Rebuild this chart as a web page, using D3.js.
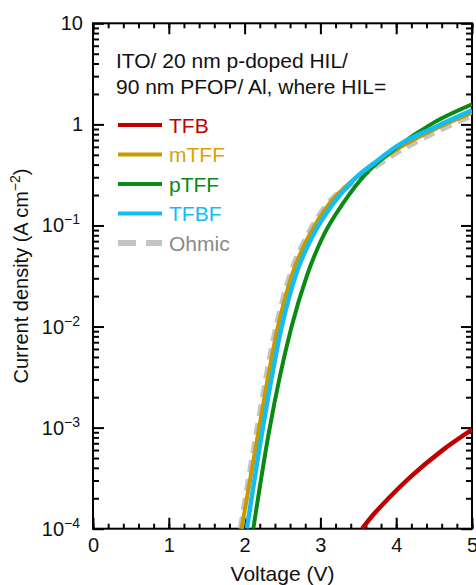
<!DOCTYPE html>
<html>
<head>
<meta charset="utf-8">
<title>Current density vs voltage</title>
<style>
body { margin: 0; background: #fff; }
svg { font-family: "Liberation Sans", Arial, sans-serif; }
</style>
<script src="https://d3js.org/d3.v7.min.js"></script>
</head>
<body>
<script>

// values (V in volts, J in A cm^-2)
var tfbV   = [3.55, 3.7, 3.9, 4.2, 4.6, 5.0];
var tfbJ   = [1e-4, 1.38e-4, 2.0e-4, 3.31e-4, 5.89e-4, 9.55e-4];

var mtffV  = [1.96, 2.18, 2.44, 2.62, 2.85, 3.1, 3.4, 3.7, 4.0, 4.5, 5.0];
var mtffJ  = [1e-4, 8.91e-4, 0.01, 0.0316, 0.0794, 0.158, 0.269, 0.398, 0.562, 0.891, 1.30];

var ptffV  = [2.115, 2.32, 2.62, 2.82, 3.04, 3.3, 3.6, 3.8, 4.0, 4.5, 5.0];
var ptffJ  = [1e-4, 8.91e-4, 0.01, 0.0316, 0.0794, 0.166, 0.324, 0.447, 0.590, 1.047, 1.58];

var tfbfV  = [2.03, 2.23, 2.49, 2.67, 2.9, 3.15, 3.45, 3.75, 4.0, 4.5, 5.0];
var tfbfJ  = [1e-4, 8.91e-4, 0.01, 0.0316, 0.0794, 0.158, 0.288, 0.437, 0.603, 0.933, 1.38];

var ohmicV = [1.95, 2.16, 2.42, 2.6, 2.83, 3.08, 3.4, 3.7, 4.0, 4.5, 5.0];
var ohmicJ = [1e-4, 8.91e-4, 0.01, 0.0316, 0.0794, 0.158, 0.257, 0.372, 0.525, 0.832, 1.23];

var seriesNames = ["TFB", "mTFF", "pTFF", "TFBF", "Ohmic"];
var xTicks = [0, 1, 2, 3, 4, 5];
var yTicks = [1e-4, 1e-3, 1e-2, 1e-1, 1, 10];
var yTickBase = ["10", "10", "10", "10", "1", "10"];
var yTickExp  = ["\u22124", "\u22123", "\u22122", "\u22121", "", ""];

var W = 476, H = 585;
var pL = 93, pR = 472, pT = 23.3, pB = 528.7;

var svg = d3.select("body").append("svg")
    .attr("width", W).attr("height", H);

var x = d3.scaleLinear().domain([0, 5]).range([pL, pR]);
var y = d3.scaleLog().domain([1e-4, 10]).range([pB, pT]);

svg.append("defs").append("clipPath").attr("id", "clip")
  .append("rect")
    .attr("x", pL).attr("y", pT)
    .attr("width", pR - pL).attr("height", pB - pT);

// minor ticks
var xMinor = d3.range(0, 5.001, 0.2);
var yMinor = [];
yTicks.slice(0, -1).forEach(function(d) {
  for (var k = 2; k <= 9; k++) yMinor.push(d * k);
});

function style(g) {
  g.select(".domain").remove();
  g.selectAll("line").attr("stroke", "#000").attr("stroke-width", 2);
}

svg.append("g").attr("transform", "translate(0," + pB + ")")
  .call(d3.axisBottom(x).tickValues(xMinor).tickSize(-5).tickFormat("")).call(style);
svg.append("g").attr("transform", "translate(0," + pB + ")")
  .call(d3.axisBottom(x).tickValues(xTicks).tickSize(-11).tickPadding(9).tickFormat(d3.format("d")))
  .call(style)
  .selectAll("text").attr("font-size", 20).attr("fill", "#111")
  .attr("font-family", "'Liberation Sans', Arial, sans-serif");

svg.append("g").attr("transform", "translate(0," + pT + ")")
  .call(d3.axisTop(x).tickValues(xMinor).tickSize(-5).tickFormat("")).call(style);
svg.append("g").attr("transform", "translate(0," + pT + ")")
  .call(d3.axisTop(x).tickValues(xTicks).tickSize(-11).tickFormat("")).call(style);

svg.append("g").attr("transform", "translate(" + pL + ",0)")
  .call(d3.axisLeft(y).tickValues(yMinor).tickSize(-6).tickFormat("")).call(style);
svg.append("g").attr("transform", "translate(" + pL + ",0)")
  .call(d3.axisLeft(y).tickValues(yTicks).tickSize(-11).tickFormat("")).call(style);

svg.append("g").attr("transform", "translate(" + pR + ",0)")
  .call(d3.axisRight(y).tickValues(yMinor).tickSize(-6).tickFormat("")).call(style);
svg.append("g").attr("transform", "translate(" + pR + ",0)")
  .call(d3.axisRight(y).tickValues(yTicks).tickSize(-11).tickFormat("")).call(style);

// y tick labels with superscripts
yTicks.forEach(function(d, i) {
  var t = svg.append("text")
      .attr("x", yTickExp[i] ? 80 : 83)
      .attr("y", y(d) + 7)
      .attr("text-anchor", "end")
      .attr("font-size", 20)
      .attr("fill", "#111");
  t.append("tspan").text(yTickBase[i]);
  if (yTickExp[i]) {
    t.append("tspan").attr("dy", -8).attr("font-size", 14).text(yTickExp[i]);
  }
});

// frame
svg.append("rect")
    .attr("x", pL).attr("y", pT)
    .attr("width", pR - pL).attr("height", pB - pT)
    .attr("fill", "none").attr("stroke", "#000").attr("stroke-width", 2);

// curves
var line = d3.line()
    .x(function(d) { return x(d[0]); })
    .y(function(d) { return y(d[1]); })
    .curve(d3.curveMonotoneX);

var curves = [
  {name: "Ohmic", v: ohmicV, j: ohmicJ, color: "#c4c4c4", width: 6, dash: "12,7"},
  {name: "TFB",   v: tfbV,   j: tfbJ,   color: "#c00000", width: 4.5},
  {name: "mTFF",  v: mtffV,  j: mtffJ,  color: "#c89a00", width: 4},
  {name: "pTFF",  v: ptffV,  j: ptffJ,  color: "#0a8a14", width: 4},
  {name: "TFBF",  v: tfbfV,  j: tfbfJ,  color: "#12bdf2", width: 4.5}
];

var plot = svg.append("g").attr("clip-path", "url(#clip)");
curves.forEach(function(c) {
  plot.append("path")
      .datum(c.v.map(function(v, i) { return [v, c.j[i]]; }))
      .attr("d", line)
      .attr("fill", "none")
      .attr("stroke", c.color)
      .attr("stroke-width", c.width)
      .attr("stroke-dasharray", c.dash || null);
});

// annotation
svg.append("text").attr("x", 116).attr("y", 68).attr("font-size", 21).attr("fill", "#111")
  .text("ITO/ 20 nm p-doped HIL/");
svg.append("text").attr("x", 116).attr("y", 94).attr("font-size", 21).attr("fill", "#111")
  .text("90 nm PFOP/ Al, where HIL=");

// legend
var legendColors = {TFB: "#c00000", mTFF: "#c89a00", pTFF: "#0a8a14", TFBF: "#12bdf2", Ohmic: "#c4c4c4"};
var textColors = {TFB: "#c00000", mTFF: "#d9a300", pTFF: "#0a8a14", TFBF: "#12bdf2", Ohmic: "#8a8a8a"};
seriesNames.forEach(function(n, i) {
  var ly = 125 + i * 29.5;
  svg.append("line")
      .attr("x1", 118).attr("x2", 162).attr("y1", ly).attr("y2", ly)
      .attr("stroke", legendColors[n])
      .attr("stroke-width", n === "Ohmic" ? 6 : 4)
      .attr("stroke-dasharray", n === "Ohmic" ? "18,10" : null);
  svg.append("text")
      .attr("x", 169).attr("y", ly + 7.5)
      .attr("font-size", 21)
      .attr("fill", textColors[n])
      .text(n);
});

// axis titles
svg.append("text")
    .attr("x", (pL + pR) / 2).attr("y", 581)
    .attr("text-anchor", "middle").attr("font-size", 21).attr("fill", "#111")
    .text("Voltage (V)");

var yt = svg.append("text")
    .attr("transform", "translate(28," + ((pT + pB) / 2) + ") rotate(-90)")
    .attr("text-anchor", "middle").attr("font-size", 20).attr("fill", "#111");
yt.append("tspan").text("Current density (A cm");
yt.append("tspan").attr("dy", -8).attr("font-size", 14).text("\u22122");
yt.append("tspan").attr("dy", 8).text(")");

</script>
</body>
</html>
